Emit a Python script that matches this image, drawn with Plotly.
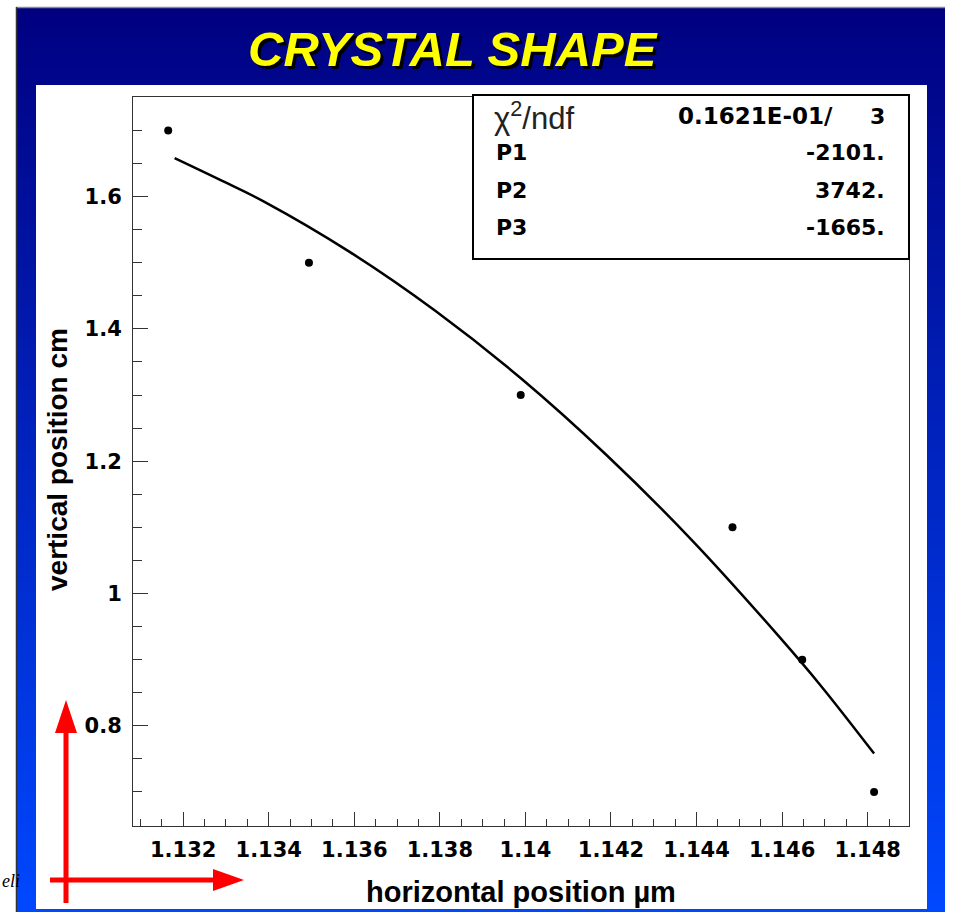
import plotly.graph_objects as go

# Measured crystal profile: horizontal position (um) vs vertical position (cm)
x_pos = [1.13165, 1.13494, 1.13989, 1.14484, 1.14647, 1.14815]
y_pos = [1.70, 1.50, 1.30, 1.10, 0.90, 0.70]

# Second-order polynomial fit curve, sampled along the fit range
fit_x = [1.1318, 1.1329, 1.1339, 1.1359, 1.1379, 1.1399, 1.1419, 1.1439, 1.1459, 1.1469, 1.14815]
fit_y = [1.658, 1.624, 1.592, 1.516, 1.427, 1.325, 1.209, 1.080, 0.937, 0.861, 0.758]

# Axis ticks
x_ticks = [1.132, 1.134, 1.136, 1.138, 1.140, 1.142, 1.144, 1.146, 1.148]
x_tick_text = ["1.132", "1.134", "1.136", "1.138", "1.14", "1.142", "1.144", "1.146", "1.148"]
y_ticks = [0.8, 1.0, 1.2, 1.4, 1.6]
y_tick_text = ["0.8", "1", "1.2", "1.4", "1.6"]

# Fit statistics box
stat_labels = ["χ<sup>2</sup>/ndf", "P1", "P2", "P3"]
stat_values = ["3", "-2101.", "3742.", "-1665."]
chi2_text = "0.1621E-01/"

W, H = 953, 912


def px(x):
    return x / W


def py(y):
    return 1 - y / H


shapes = []

# Blue slide frame with a vertical navy-to-blue gradient; each band runs to the
# bottom so the next one overlaps it without seams
top, bot, n = 7, 912, 90
for i in range(n):
    y0 = top + (bot - top) * i / n
    t = (i + 0.5) / n
    g = round(72 * t)
    b = round(128 + 127 * t)
    shapes.append(dict(type="rect", xref="paper", yref="paper",
                       x0=px(16), x1=px(945), y0=py(bot), y1=py(y0),
                       fillcolor=f"rgb(0,{g},{b})", line=dict(width=0), layer="below"))
shapes.append(dict(type="line", xref="paper", yref="paper", x0=px(16), x1=px(945),
                   y0=py(7.5), y1=py(7.5), line=dict(color="#8a8a8a", width=1.5), layer="below"))
shapes.append(dict(type="line", xref="paper", yref="paper", x0=px(16.5), x1=px(16.5),
                   y0=py(7), y1=py(912), line=dict(color="#333333", width=1.5), layer="below"))

# White canvas inside the frame
shapes.append(dict(type="rect", xref="paper", yref="paper", x0=px(36), x1=px(927),
                   y0=py(909), y1=py(85), fillcolor="white", line=dict(width=0), layer="below"))

# Statistics box
shapes.append(dict(type="rect", xref="paper", yref="paper", x0=px(473), x1=px(909),
                   y0=py(259), y1=py(95), fillcolor="white",
                   line=dict(color="black", width=2), layer="above"))

# Red coordinate arrows
red = "#ff0000"
shapes.append(dict(type="line", xref="paper", yref="paper", x0=px(66), x1=px(66),
                   y0=py(903), y1=py(728), line=dict(color=red, width=5)))
shapes.append(dict(type="path", xref="paper", yref="paper",
                   path=f"M {px(66)} {py(700)} L {px(55)} {py(733)} L {px(77)} {py(733)} Z",
                   fillcolor=red, line=dict(width=0)))
shapes.append(dict(type="line", xref="paper", yref="paper", x0=px(50), x1=px(216),
                   y0=py(880), y1=py(880), line=dict(color=red, width=5)))
shapes.append(dict(type="path", xref="paper", yref="paper",
                   path=f"M {px(244)} {py(880)} L {px(213)} {py(869)} L {px(213)} {py(891)} Z",
                   fillcolor=red, line=dict(width=0)))

annotations = []

# Title with drop shadow
annotations.append(dict(text="<b><i>CRYSTAL SHAPE</i></b>", xref="paper", yref="paper",
                        x=px(453), y=py(49), xanchor="center", yanchor="middle", showarrow=False,
                        font=dict(family="Liberation Sans, Arial, sans-serif", size=49,
                                  color="#ffff00", shadow="3px 3px 0px #000000")))

# Axis titles
axis_font = dict(family="Liberation Sans, Arial, sans-serif", size=29, color="black", weight="bold")
annotations.append(dict(text="horizontal position µm", xref="paper", yref="paper",
                        x=px(521), y=py(892), xanchor="center", yanchor="middle",
                        showarrow=False, font=axis_font))
annotations.append(dict(text="vertical position cm", xref="paper", yref="paper",
                        x=px(57), y=py(460), xanchor="center", yanchor="middle",
                        textangle=-90, showarrow=False,
                        font=dict(family="Liberation Sans, Arial, sans-serif", size=28,
                                  color="black", weight="bold")))

# Stats box text
row_y = [116, 152.5, 190, 227.5]
bold_font = dict(family="DejaVu Sans, sans-serif", size=22, color="black", weight="bold")
annotations.append(dict(text=stat_labels[0], xref="paper", yref="paper", x=px(492), y=py(row_y[0]),
                        xanchor="left", yanchor="middle", showarrow=False,
                        font=dict(family="Liberation Sans, Arial, sans-serif", size=31, color="#222222")))
annotations.append(dict(text=chi2_text, xref="paper", yref="paper", x=px(835), y=py(row_y[0]),
                        xanchor="right", yanchor="middle", showarrow=False,
                        font=dict(family="DejaVu Sans, sans-serif", size=23, color="black", weight="bold")))
for i in range(4):
    if i > 0:
        annotations.append(dict(text=stat_labels[i], xref="paper", yref="paper", x=px(494), y=py(row_y[i]),
                                xanchor="left", yanchor="middle", showarrow=False, font=bold_font))
    annotations.append(dict(text=stat_values[i], xref="paper", yref="paper", x=px(887), y=py(row_y[i]),
                            xanchor="right", yanchor="middle", showarrow=False, font=bold_font))

# Caption text at the left edge, partly behind the frame
annotations.append(dict(text="<i>eli</i>", xref="paper", yref="paper", x=px(0), y=py(881),
                        xanchor="left", yanchor="middle", showarrow=False,
                        font=dict(family="Liberation Serif, Times New Roman, serif", size=18, color="black")))

fig = go.Figure()
fig.add_trace(go.Scatter(x=fit_x, y=fit_y, mode="lines", name="fit",
                         line=dict(color="black", width=2.5, shape="spline")))
fig.add_trace(go.Scatter(x=x_pos, y=y_pos, mode="markers", name="data",
                         marker=dict(color="black", size=8)))

tick_font = dict(family="DejaVu Sans, sans-serif", size=21, color="black", weight="bold")
frame = "#333333"
fig.update_layout(
    width=W, height=H, margin=dict(l=0, r=0, t=0, b=0),
    paper_bgcolor="white", plot_bgcolor="white", showlegend=False,
    shapes=shapes, annotations=annotations,
    xaxis=dict(domain=[px(133), px(909)], range=[1.130827, 1.148966],
               tickmode="array", tickvals=x_ticks, ticktext=x_tick_text,
               ticks="inside", ticklen=14, tickwidth=1, tickcolor=frame,
               showline=True, linecolor=frame, linewidth=1, mirror=True,
               showgrid=False, zeroline=False, tickfont=tick_font, ticklabelstandoff=5,
               minor=dict(ticks="inside", ticklen=7, tick0=1.132, dtick=0.0005,
                          tickcolor=frame, showgrid=False)),
    yaxis=dict(domain=[py(826), py(97)], range=[0.6485, 1.7505],
               tickmode="array", tickvals=y_ticks, ticktext=y_tick_text,
               ticks="inside", ticklen=15, tickwidth=1, tickcolor=frame,
               showline=True, linecolor=frame, linewidth=1, mirror=True,
               showgrid=False, zeroline=False, tickfont=tick_font, ticklabelstandoff=6,
               minor=dict(ticks="inside", ticklen=9, tick0=0.8, dtick=0.05,
                          tickcolor=frame, showgrid=False)),
)

fig.write_html("out.html")
